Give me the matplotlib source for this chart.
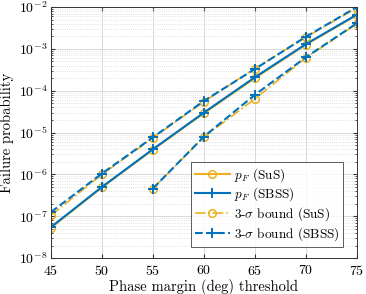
import numpy as np
import matplotlib
matplotlib.use("Agg")
import matplotlib.pyplot as plt
from matplotlib.ticker import FixedLocator, NullFormatter

plt.rcParams['font.family'] = 'serif'
plt.rcParams['font.serif'] = ['cmr10']
plt.rcParams['mathtext.fontset'] = 'cm'
plt.rcParams['axes.formatter.use_mathtext'] = True

x = [45, 50, 55, 60, 65, 70, 75]
pf_sus = [5.3e-8, 4.9e-7, 3.9e-6, 2.9e-5, 2.0e-4, 1.27e-3, 6.4e-3]
pf_sbss = [5.5e-8, 5.0e-7, 4.0e-6, 3.0e-5, 2.1e-4, 1.3e-3, 6.6e-3]
ub_sus = [1.05e-7, 1.0e-6, 7.4e-6, 5.5e-5, 3.4e-4, 1.9e-3, 9.6e-3]
ub_sbss = [1.25e-7, 1.05e-6, 7.7e-6, 5.7e-5, 3.3e-4, 1.95e-3, 1.0e-2]
x_lb = [55, 60, 65, 70, 75]
lb_sus = [4.6e-7, 7.8e-6, 6.4e-5, 6.1e-4, 4.0e-3]
lb_sbss = [4.6e-7, 8.0e-6, 8.0e-5, 6.3e-4, 4.1e-3]

x_ticks = [45, 50, 55, 60, 65, 70, 75]
y_exps = [-8, -7, -6, -5, -4, -3, -2]

orange = '#EDB120'
blue = '#0072BD'

fig = plt.figure(figsize=(3.66, 2.94), dpi=100)
ax = fig.add_axes([0.139, 0.122, 0.836, 0.854])

mk = dict(ms=5.5, mfc='none', mew=1.1)
pk = dict(ms=6.5, mew=1.4)
ax.plot(x, pf_sus, color=orange, lw=1.5, marker='o', label=r'$p_F\text{ (SuS)}$', **mk)
ax.plot(x, pf_sbss, color=blue, lw=1.5, marker='+', label=r'$p_F\text{ (SBSS)}$', **pk)
ax.plot(x, ub_sus, color=orange, lw=1.2, ls='-.', marker='o', label=r'$\text{3-}\sigma\text{ bound (SuS)}$', **mk)
ax.plot(x, ub_sbss, color=blue, lw=1.5, ls='--', marker='+', label=r'$\text{3-}\sigma\text{ bound (SBSS)}$', **pk)
ax.plot(x_lb, lb_sus, color=orange, lw=1.2, ls='-.', marker='o', **mk)
ax.plot(x_lb, lb_sbss, color=blue, lw=1.5, ls='--', marker='+', **pk)

ax.set_yscale('log')
ax.set_xlim(45, 75)
ax.set_ylim(1e-8, 1e-2)
ax.xaxis.set_major_locator(FixedLocator(x_ticks))
ax.set_xticklabels([r'$%d$' % v for v in x_ticks])
yt = [10.0 ** e for e in y_exps]
ax.yaxis.set_major_locator(FixedLocator(yt))
ax.set_yticklabels([r'$10^{%d}$' % e for e in y_exps])
minor = [m * 10.0 ** e for e in y_exps[:-1] for m in range(2, 10)]
ax.yaxis.set_minor_locator(FixedLocator(minor))
ax.yaxis.set_minor_formatter(NullFormatter())

ax.grid(True, which='major', color='#d8d8d8', lw=0.7)
ax.grid(True, which='minor', color='#d8d8d8', lw=0.6, ls=':')
ax.set_axisbelow(True)
ax.tick_params(which='both', direction='in', top=True, right=True, labelsize=10, color='#333333')
ax.tick_params(which='major', length=3)
ax.tick_params(axis='y', which='major', pad=2.5)
ax.tick_params(axis='x', which='major', pad=4)
ax.tick_params(which='minor', length=1.5)
for s in ax.spines.values():
    s.set_color('#333333')
    s.set_linewidth(0.7)

ax.set_xlabel('Phase margin (deg) threshold', fontsize=10.5, labelpad=1)
ax.set_ylabel('Failure probability', fontsize=10.5, labelpad=3)

leg = ax.legend(loc='lower right', bbox_to_anchor=(0.955, 0.045), fontsize=9.5, fancybox=False,
                edgecolor='#333333', handlelength=2.6, borderpad=0.3, labelspacing=0.15,
                handletextpad=0.3, borderaxespad=0.0)
leg.get_frame().set_linewidth(0.7)

fig.savefig('out.png', dpi=100)
